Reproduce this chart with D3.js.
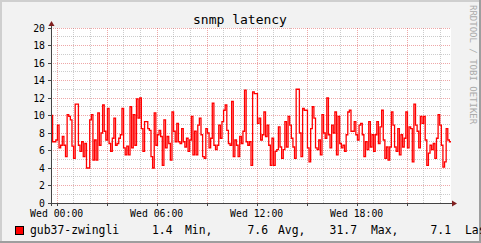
<!DOCTYPE html>
<html><head><meta charset="utf-8">
<script src="https://cdn.jsdelivr.net/npm/d3@7"></script>
<style>
html,body{margin:0;padding:0;background:#f2f2f2;}
svg{display:block;}
text{font-family:"DejaVu Sans Mono",monospace;}
</style></head>
<body>
<script>
const title = "snmp latency";
const seriesName = "gub37-zwingli";
const yTicks = [0,2,4,6,8,10,12,14,16,18,20];
const xTickLabels = ["Wed 00:00","Wed 06:00","Wed 12:00","Wed 18:00"];
const xTickHours = [0,6,12,18];
const statValues = ["1.4","7.6","31.7","7.1"];
const statNames = ["Min,","Avg,","Max,","Last"];
const latency = [
10.0,7.0,7.0,7.2,8.9,6.3,6.6,7.6,6.6,5.3,10.1,9.9,9.5,6.5,5.1,11.3,11.3,6.6,5.9,7.0,5.3,6.8,4.0,4.0,9.5,10.1,4.9,7.2,4.9,10.3,6.6,8.0,11.2,8.2,7.2,10.8,6.8,5.9,7.4,9.7,6.6,6.8,7.4,7.8,10.8,6.3,5.5,6.5,5.5,11.0,6.3,10.1,6.6,11.9,9.7,12.0,8.5,5.9,9.3,9.3,8.5,8.3,5.3,4.0,
10.3,6.6,7.8,8.3,7.6,4.3,9.5,6.3,7.6,6.8,4.9,10.4,8.2,7.0,9.1,7.0,6.8,8.5,7.0,6.4,7.4,5.9,7.2,9.9,5.5,8.2,5.5,8.9,9.7,7.8,5.3,5.1,8.5,8.0,6.3,7.4,11.4,6.6,6.1,6.6,8.9,7.4,9.3,10.6,11.2,8.3,6.8,6.6,11.6,5.3,7.2,6.6,5.3,7.6,6.8,8.2,12.9,7.0,6.6,7.0,4.3,12.7,
12.5,12.5,9.1,9.7,7.2,7.8,10.4,7.6,8.9,6.6,4.3,7.4,4.3,5.9,6.1,8.7,6.4,5.1,6.1,9.3,6.4,9.9,8.9,7.4,6.4,5.1,13.0,13.0,8.0,5.3,10.8,10.6,10.6,6.3,4.7,8.5,11.0,9.7,6.3,6.1,7.2,5.5,10.1,8.0,7.4,12.0,7.8,6.3,8.9,8.0,10.4,5.5,9.9,6.8,6.3,6.6,5.9,7.8,10.4,10.6,8.2,
8.2,9.3,7.8,7.2,8.9,9.1,7.8,5.3,7.0,6.1,9.3,6.4,7.8,5.9,7.8,9.3,6.8,8.7,10.6,7.2,5.1,6.4,4.9,6.4,10.4,8.9,6.4,5.9,8.5,5.5,7.8,6.4,7.4,10.4,6.3,8.7,8.5,4.7,11.3,8.9,8.2,6.3,9.9,9.1,9.9,7.2,4.3,5.7,6.6,6.1,6.8,5.1,7.4,10.1,8.9,6.6,4.1,4.7,8.5,7.2,7.0
];

const W = 481, H = 243;
const svg = d3.select("body").append("svg").attr("width", W).attr("height", H);

// background and 3D border
svg.append("rect").attr("width", W).attr("height", H).attr("fill", "#f2f2f2");
svg.append("rect").attr("x",0).attr("y",0).attr("width",W).attr("height",2).attr("fill","#cfcfcf");
svg.append("rect").attr("x",0).attr("y",0).attr("width",2).attr("height",H).attr("fill","#cfcfcf");
svg.append("rect").attr("x",0).attr("y",H-2).attr("width",W).attr("height",2).attr("fill","#9e9e9e");
svg.append("rect").attr("x",W-2).attr("y",0).attr("width",2).attr("height",H).attr("fill","#9e9e9e");

const plotL = 51, plotR = 451, plotT = 28, plotB = 203;
const t0 = new Date(2024, 0, 3, 0, 0, 0); // Wed 00:00
const hour = 3600 * 1000;
const start = new Date(t0.getTime() - 0.34 * hour);
const end = new Date(start.getTime() + 24 * hour);

const x = d3.scaleTime().domain([start, end]).range([plotL, plotR]);
const y = d3.scaleLinear().domain([0, 20]).range([plotB, plotT]);
const py = v => Math.floor(y(v)) + 0.5;

svg.append("rect").attr("x", plotL).attr("y", plotT).attr("width", plotR - plotL).attr("height", plotB - plotT).attr("fill", "#ffffff");

const grid = svg.append("g").attr("shape-rendering","crispEdges");
d3.range(1, 21, 1).forEach(v => {
  const major = v % 2 === 0;
  grid.append("line").attr("x1", plotL).attr("x2", plotR).attr("y1", py(v)).attr("y2", py(v))
    .attr("stroke", major ? "rgba(222,79,79,0.5)" : "rgba(143,143,143,0.45)")
    .attr("stroke-dasharray", "1,1");
});
const hours = d3.range(0, 24, 1).map(h => new Date(t0.getTime() + h * hour));
hours.forEach((d, i) => {
  const px = Math.round(x(d)) + 0.5;
  if (px < plotL || px > plotR) return;
  const major = i % 3 === 0;
  grid.append("line").attr("x1", px).attr("x2", px).attr("y1", plotT).attr("y2", plotB)
    .attr("stroke", major ? "rgba(222,79,79,0.5)" : "rgba(143,143,143,0.45)")
    .attr("stroke-dasharray", "1,1");
});

// data line
const step = 24 * hour / latency.length;
const pts = latency.map((v, i) => [new Date(start.getTime() + i * step), v]);
pts.push([end, latency[latency.length - 1]]);
svg.append("clipPath").attr("id","clip").append("rect").attr("x",plotL).attr("y",plotT).attr("width",plotR-plotL).attr("height",plotB-plotT+1);
svg.append("path").datum(pts)
  .attr("clip-path","url(#clip)")
  .attr("fill","none").attr("stroke","#ff0000").attr("stroke-width",1.3)
  .attr("d", d3.line().x(d => x(d[0])).y(d => y(d[1])).curve(d3.curveStepAfter));

// axes
const ax = svg.append("g").attr("shape-rendering","crispEdges");
ax.append("line").attr("x1", plotL - 3).attr("x2", plotR + 2).attr("y1", plotB + 0.5).attr("y2", plotB + 0.5).attr("stroke", "#444");
ax.append("line").attr("x1", plotL + 0.5).attr("x2", plotL + 0.5).attr("y1", plotB + 3).attr("y2", plotT - 2).attr("stroke", "#444");
yTicks.forEach(v => {
  ax.append("line").attr("x1", plotL - 3).attr("x2", plotL).attr("y1", py(v)).attr("y2", py(v)).attr("stroke", "#444");
});
hours.forEach((d, i) => {
  if (i % 3 !== 0) return;
  const px = Math.round(x(d)) + 0.5;
  ax.append("line").attr("x1", px).attr("x2", px).attr("y1", plotB).attr("y2", plotB + 3).attr("stroke", "#444");
});
// arrows
svg.append("path").attr("d", `M${plotL-2.5},${plotT-2} L${plotL+3.5},${plotT-2} L${plotL+0.5},${plotT-7} Z`).attr("fill", "#801f1f");
svg.append("path").attr("d", `M${plotR+1},${plotB-2.5} L${plotR+1},${plotB+3.5} L${plotR+6},${plotB+0.5} Z`).attr("fill", "#801f1f");

// y labels
svg.append("g").selectAll("text").data(yTicks).join("text")
  .attr("x", 45).attr("y", d => py(d) + 3.3)
  .attr("text-anchor", "end").attr("font-size", "9.8px").attr("fill", "#000")
  .text(d => d);
// x labels
svg.append("g").selectAll("text").data(xTickHours).join("text")
  .attr("x", (d) => x(new Date(t0.getTime() + d * hour)))
  .attr("y", 216.5).attr("text-anchor", "middle").attr("font-size", "9.8px").attr("fill", "#000")
  .text((d, i) => xTickLabels[i]);

// title
svg.append("text").attr("x", 240).attr("y", 24).attr("text-anchor", "middle").attr("font-size", "13px").attr("fill", "#000").text(title);

// watermark
svg.append("text").attr("transform", "translate(472.5,5) rotate(90)").attr("dominant-baseline", "middle")
  .attr("font-size", "9px").attr("fill", "#aaaaaa").text("RRDTOOL / TOBI OETIKER");

// legend
svg.append("rect").attr("x", 15.5).attr("y", 226.5).attr("width", 8).attr("height", 8).attr("fill", "#ff0000").attr("stroke", "#000").attr("stroke-width", 1);
const lg = svg.append("g").attr("font-size", "11.4px").attr("fill", "#000");
lg.append("text").attr("x", 30).attr("y", 233.5).text(seriesName);
const valEnds = [172.5, 268, 357, 451];
const nameStarts = [185, 278, 371, 465];
statValues.forEach((v, i) => {
  lg.append("text").attr("x", valEnds[i]).attr("y", 233.5).attr("text-anchor", "end").text(v);
  lg.append("text").attr("x", nameStarts[i]).attr("y", 233.5).text(statNames[i]);
});
</script>
</body></html>
